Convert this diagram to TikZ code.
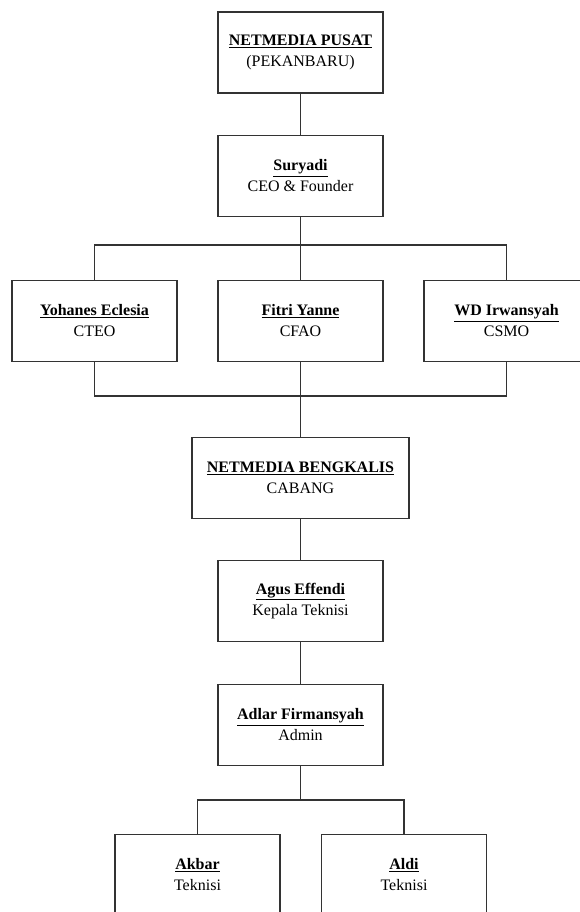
\documentclass[tikz,border=0pt]{standalone}
\usepackage{fontspec}
\setmainfont{Liberation Serif}
\usepackage{tikz}

\begin{document}
\begin{tikzpicture}[x=1pt,y=-1pt]
\tikzstyle{every node}+=[inner sep=0pt]
\tikzstyle{unit}=[draw=black!80, line width=1.2pt, minimum width=165pt, minimum height=81pt, align=center, font=\fontsize{16}{21}\selectfont]
\tikzstyle{link}=[draw=black!80, line width=1.2pt]
\useasboundingbox (0,0) rectangle (579,912);
\node [unit] (pusat) at (300.5,52.5) {\underline{\textbf{NETMEDIA PUSAT}}\\(PEKANBARU)};
\node [unit] (suryadi) at (300.5,176) {\underline{\textbf{Suryadi}}\\CEO \& Founder};
\node [unit] (yohanes) at (94.5,321) {\underline{\textbf{Yohanes Eclesia}}\\CTEO};
\node [unit] (fitri) at (300.5,321) {\underline{\textbf{Fitri Yanne}}\\CFAO};
\node [unit] (wd) at (506.5,321) {\underline{\textbf{WD Irwansyah}}\\CSMO};
\node [unit, minimum width=217pt] (bengkalis) at (300.5,478) {\underline{\textbf{NETMEDIA BENGKALIS}}\\CABANG};
\node [unit] (agus) at (300.5,601) {\underline{\textbf{Agus Effendi}}\\Kepala Teknisi};
\node [unit] (adlar) at (300.5,725) {\underline{\textbf{Adlar Firmansyah}}\\Admin};
\node [unit] (akbar) at (197.5,875) {\underline{\textbf{Akbar}}\\Teknisi};
\node [unit] (aldi) at (404,875) {\underline{\textbf{Aldi}}\\Teknisi};
\coordinate (top bus) at (300.5,245);
\coordinate (mid bus) at (300.5,396);
\coordinate (low bus) at (300.5,800);
\draw [link] (pusat) -- (suryadi);
\draw [link] (suryadi) -- (top bus);
\draw [link] (yohanes.north) |- (top bus) -| (wd.north);
\draw [link] (top bus) -- (fitri);
\draw [link] (yohanes.south) |- (mid bus) -| (wd.south);
\draw [link] (fitri) -- (bengkalis);
\draw [link] (bengkalis) -- (agus);
\draw [link] (agus) -- (adlar);
\draw [link] (adlar) -- (low bus);
\draw [link] (akbar.north) |- (low bus) -| (aldi.north);
\end{tikzpicture}
\end{document}
